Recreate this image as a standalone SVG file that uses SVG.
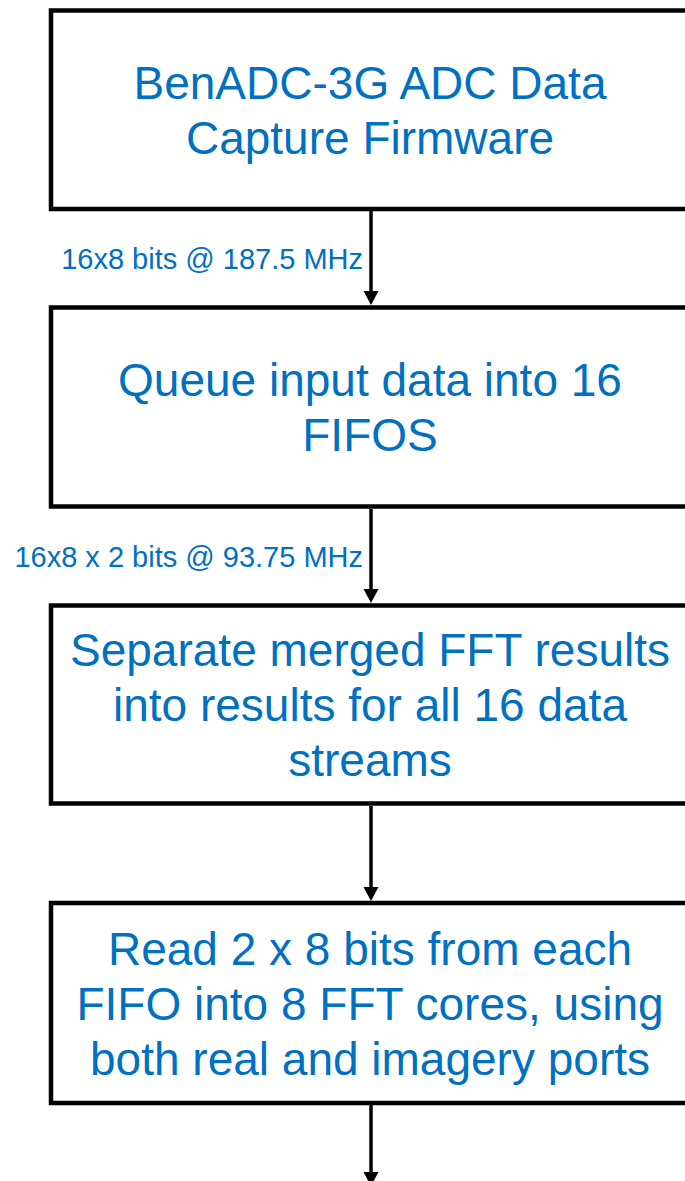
<svg xmlns="http://www.w3.org/2000/svg" width="685" height="1181" viewBox="0 0 685 1181">
  <style>
    .box { fill: #ffffff; stroke: #000000; stroke-width: 4.5; }
    .txt { font-family: "Liberation Sans", Arial, sans-serif; font-size: 46px; fill: #0070C0; text-anchor: middle; }
    .lbl { font-family: "Liberation Sans", Arial, sans-serif; font-size: 29px; fill: #0070C0; text-anchor: end; }
    .conn { stroke: #000000; stroke-width: 3.5; fill: none; marker-end: url(#arrow); }
  </style>
  <defs>
    <marker id="arrow" markerUnits="userSpaceOnUse" markerWidth="15" markerHeight="16" refX="0" refY="7.5" orient="auto" overflow="visible">
      <path d="M0,0 L14,7.5 L0,15 Z" fill="#000000"/>
    </marker>
  </defs>
  <rect width="685" height="1181" fill="#ffffff"/>
  <g id="connectors">
    <line class="conn" x1="371" y1="211" x2="371" y2="291"/>
    <line class="conn" x1="371" y1="509" x2="371" y2="589"/>
    <line class="conn" x1="371" y1="806" x2="371" y2="887"/>
    <line class="conn" x1="371" y1="1105" x2="371" y2="1172"/>
  </g>
  <g id="label1">
    <text class="lbl" x="363" y="269">16x8 bits @ 187.5 MHz</text>
  </g>
  <g id="label2">
    <text class="lbl" x="363" y="567">16x8 x 2 bits @ 93.75 MHz</text>
  </g>
  <g id="node1">
    <rect class="box" x="51" y="10.5" width="645" height="198.5"/>
    <text class="txt" x="370" y="99">BenADC-3G ADC Data</text>
    <text class="txt" x="370" y="154">Capture Firmware</text>
  </g>
  <g id="node2">
    <rect class="box" x="51" y="307.5" width="645" height="199"/>
    <text class="txt" x="370" y="396">Queue input data into 16</text>
    <text class="txt" x="370" y="451">FIFOS</text>
  </g>
  <g id="node3">
    <rect class="box" x="51" y="605.5" width="645" height="198"/>
    <text class="txt" x="370" y="666">Separate merged FFT results</text>
    <text class="txt" x="370" y="721">into results for all 16 data</text>
    <text class="txt" x="370" y="776">streams</text>
  </g>
  <g id="node4">
    <rect class="box" x="51" y="903" width="645" height="200"/>
    <text class="txt" x="370" y="965">Read 2 x 8 bits from each</text>
    <text class="txt" x="370" y="1020">FIFO into 8 FFT cores, using</text>
    <text class="txt" x="370" y="1075">both real and imagery ports</text>
  </g>
</svg>
